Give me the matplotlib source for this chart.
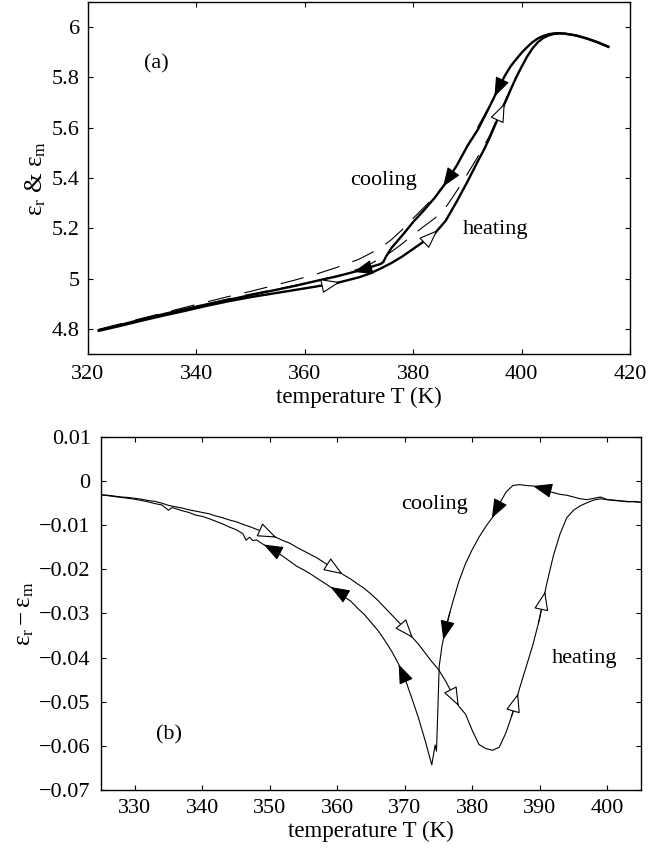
import numpy as np
import matplotlib.pyplot as plt

plt.rcParams['font.family'] = ['Liberation Serif', 'DejaVu Serif']
plt.rcParams['mathtext.fontset'] = 'custom'
plt.rcParams['mathtext.rm'] = 'Liberation Serif'
plt.rcParams['mathtext.it'] = 'Liberation Serif:italic'
plt.rcParams['mathtext.default'] = 'regular'
plt.rcParams['lines.scale_dashes'] = False

# ---- panel (a): eps_r on heating / cooling, eps_m dashed ----
T_heat = [322, 326, 330, 334, 338, 342, 346, 350, 354, 358, 362, 366, 370, 372, 374,
          376, 378, 380, 382, 384, 386, 388, 390, 392, 393, 394, 395, 396, 397, 398,
          399, 400, 401, 402, 403, 404, 405, 406, 407, 408, 410, 412, 414, 416]
eps_heat = [4.792, 4.812, 4.833, 4.853, 4.872, 4.892, 4.910, 4.926, 4.940, 4.954, 4.968,
            4.983, 5.005, 5.020, 5.040, 5.062, 5.088, 5.118, 5.148, 5.180, 5.230, 5.305,
            5.385, 5.470, 5.510, 5.555, 5.605, 5.655, 5.702, 5.752, 5.800, 5.842, 5.882,
            5.915, 5.940, 5.957, 5.967, 5.973, 5.975, 5.974, 5.967, 5.955, 5.940, 5.922]

T_cool = [322, 326, 330, 334, 338, 342, 346, 350, 354, 358, 362, 366, 370, 372, 374,
          374.5, 375, 376, 378, 380, 382, 384, 386, 388, 390, 392, 394, 395, 396, 397,
          398, 399, 400, 401, 402, 403, 404, 405, 406, 407, 408, 410, 412, 414, 416]
eps_cool = [4.795, 4.816, 4.838, 4.859, 4.879, 4.898, 4.916, 4.934, 4.952, 4.970, 4.990,
            5.009, 5.032, 5.045, 5.058, 5.066, 5.088, 5.122, 5.172, 5.225, 5.272, 5.322,
            5.380, 5.448, 5.527, 5.595, 5.680, 5.724, 5.770, 5.810, 5.845, 5.872, 5.898,
            5.920, 5.940, 5.955, 5.965, 5.972, 5.975, 5.976, 5.974, 5.967, 5.955, 5.940,
            5.922]

T_m_cool = [322, 330, 340, 346, 350, 354, 358, 362, 366, 370, 372, 374, 376, 378, 380,
            382, 384, 386, 388, 390, 394, 398]
eps_m_cool = [4.798, 4.842, 4.897, 4.929, 4.949, 4.971, 4.993, 5.017, 5.045, 5.077, 5.099,
              5.122, 5.155, 5.195, 5.240, 5.283, 5.327, 5.381, 5.449, 5.529, 5.683, 5.849]

T_m_heat = [322, 330, 340, 346, 350, 354, 358, 362, 366, 370, 372, 374, 376, 378, 380,
            382, 384, 386, 388, 390, 392, 394, 396, 398]
eps_m_heat = [4.795, 4.837, 4.889, 4.920, 4.938, 4.955, 4.972, 4.991, 5.011, 5.039, 5.057,
              5.081, 5.107, 5.139, 5.175, 5.208, 5.240, 5.283, 5.347, 5.416, 5.487, 5.564,
              5.661, 5.756]

# ---- panel (b): eps_r - eps_m ----
Tb_heat = list(range(325, 406))
d_heat = [-0.0031, -0.0032, -0.0034, -0.0036, -0.0037, -0.0039, -0.0041, -0.0044, -0.0046,
          -0.0050, -0.0055, -0.0058, -0.0061, -0.0065, -0.0068, -0.0071, -0.0074, -0.0079,
          -0.0083, -0.0088, -0.0092, -0.0098, -0.0103, -0.0109, -0.0115, -0.0121, -0.0128,
          -0.0135, -0.0141, -0.0150, -0.0158, -0.0166, -0.0174, -0.0184, -0.0194, -0.0203,
          -0.0213, -0.0222, -0.0233, -0.0243, -0.0256, -0.0270, -0.0286, -0.0302, -0.0318,
          -0.0334, -0.0352, -0.0369, -0.0389, -0.0409, -0.0427, -0.0452, -0.0480, -0.0510,
          -0.0528, -0.0565, -0.0597, -0.0606, -0.0610, -0.0603, -0.0570, -0.0525, -0.0470,
          -0.0420, -0.0370, -0.0310, -0.0235, -0.0170, -0.0120, -0.0083, -0.0066, -0.0056,
          -0.0049, -0.0043, -0.0040, -0.0042, -0.0044, -0.0045, -0.0047, -0.0046, -0.0048]

Tb_cool = [325, 326, 327, 328, 329, 330, 331, 332, 333, 334, 335, 335.5, 336, 337, 338,
           339, 340, 341, 342, 343, 344, 345, 346, 346.5, 347, 347.5, 348, 349, 350, 351,
           352, 353, 354, 355, 356, 357, 358, 359, 360, 361, 362, 363, 364, 365, 366, 367,
           368, 369, 370, 371, 372, 373, 373.5, 374, 374.5, 374.7, 374.9, 375.1, 375.5,
           376, 377, 378, 379, 380, 381, 382, 383, 384, 385, 386, 387, 388, 389, 390, 391,
           392, 393, 394, 395, 396, 397, 398, 399, 400, 401, 402, 403, 404, 405]
d_cool = [-0.0031, -0.0033, -0.0035, -0.0037, -0.0039, -0.0041, -0.0044, -0.0047, -0.0051,
          -0.0054, -0.0066, -0.0060, -0.0062, -0.0067, -0.0071, -0.0077, -0.0080, -0.0085,
          -0.0091, -0.0097, -0.0104, -0.0110, -0.0119, -0.0134, -0.0127, -0.0135, -0.0133,
          -0.0143, -0.0151, -0.0160, -0.0171, -0.0182, -0.0193, -0.0201, -0.0210, -0.0220,
          -0.0230, -0.0240, -0.0249, -0.0262, -0.0272, -0.0288, -0.0302, -0.0320, -0.0338,
          -0.0360, -0.0384, -0.0412, -0.0446, -0.0490, -0.0535, -0.0587, -0.0615, -0.0643,
          -0.0598, -0.0612, -0.0520, -0.0420, -0.0375, -0.0336, -0.0280, -0.0228, -0.0187,
          -0.0155, -0.0127, -0.0103, -0.0082, -0.0052, -0.0025, -0.0010, -0.0008, -0.0010,
          -0.0011, -0.0015, -0.0022, -0.0026, -0.0030, -0.0032, -0.0036, -0.0040, -0.0042,
          -0.0039, -0.0036, -0.0042, -0.0043, -0.0045, -0.0046, -0.0047, -0.0048]

# arrow tip temperatures along each branch
arr_a_heat = [366.5, 384.5, 396.9]
arr_a_cool = [395.0, 385.5, 369.0]
arr_b_heat = [351.0, 360.8, 371.2, 378.0, 386.8, 390.8]
arr_b_cool = [389.0, 382.9, 375.7, 369.1, 359.0, 349.1]

yticks_a = [4.8, 5.0, 5.2, 5.4, 5.6, 5.8, 6.0]
ylabels_a = ['4.8', '5', '5.2', '5.4', '5.6', '5.8', '6']
xticks_a = [320, 340, 360, 380, 400, 420]
yticks_b = [0.01, 0, -0.01, -0.02, -0.03, -0.04, -0.05, -0.06, -0.07]
ylabels_b = ['0.01', '0', '\u22120.01', '\u22120.02', '\u22120.03', '\u22120.04',
             '\u22120.05', '\u22120.06', '\u22120.07']
xticks_b = [330, 340, 350, 360, 370, 380, 390, 400]

FS = 16


def arrows(ax, T, y, tips, step, face):
    for t in tips:
        tip = (t, np.interp(t, T, y))
        tail = (t - step, np.interp(t - step, T, y))
        ax.annotate('', xy=tip, xytext=tail,
                    arrowprops=dict(arrowstyle='-|>,head_length=1.0,head_width=0.38',
                                    mutation_scale=12, fc=face, ec='black', lw=0.8,
                                    shrinkA=0, shrinkB=0))


def style(ax, xpad, ypad):
    ax.tick_params(direction='in', top=True, right=True, length=3.6, width=0.8,
                   labelsize=FS)
    ax.tick_params(axis='x', pad=xpad)
    ax.tick_params(axis='y', pad=ypad)
    for s in ax.spines.values():
        s.set_linewidth(1.0)


fig = plt.figure(figsize=(6.48, 8.59), dpi=100)
ax1 = fig.add_axes([0.1358, 0.5879, 0.8364, 0.4098])
ax2 = fig.add_axes([0.1559, 0.0803, 0.8333, 0.4110])

# (a)
ax1.plot(T_m_cool, eps_m_cool, color='black', lw=0.8, dashes=(17, 10))
ax1.plot(T_m_heat, eps_m_heat, color='black', lw=0.8, dashes=(17, 10))
ax1.plot(T_heat, eps_heat, color='black', lw=1.7)
ax1.plot(T_cool, eps_cool, color='black', lw=1.7)
arrows(ax1, T_heat, eps_heat, arr_a_heat, 1.0, 'white')
arrows(ax1, T_cool, eps_cool, arr_a_cool, -1.0, 'black')
ax1.set_xlim(320, 420)
ax1.set_ylim(4.7, 6.1)
ax1.set_xticks(xticks_a)
ax1.set_yticks(yticks_a)
ax1.set_yticklabels(ylabels_a)
ax1.text(332.7, 5.855, '(a)', fontsize=FS, ha='center', va='center')
ax1.text(374.5, 5.389, 'cooling', fontsize=FS, ha='center', va='center')
ax1.text(395.2, 5.197, 'heating', fontsize=FS, ha='center', va='center')
ax1.set_xlabel('temperature T (K)', fontsize=16.5, labelpad=2)
ax1.set_ylabel(r'$\varepsilon_r$ & $\varepsilon_m$', fontsize=18, labelpad=3)
style(ax1, 8, 5.8)

# (b)
ax2.plot(Tb_heat, d_heat, color='black', lw=0.8)
ax2.plot(Tb_cool, d_cool, color='black', lw=0.8)
arrows(ax2, Tb_heat, d_heat, arr_b_heat, 1.0, 'white')
arrows(ax2, Tb_cool, d_cool, arr_b_cool, -1.0, 'black')
ax2.set_xlim(325, 405)
ax2.set_ylim(-0.07, 0.01)
ax2.set_xticks(xticks_b)
ax2.set_yticks(yticks_b)
ax2.set_yticklabels(ylabels_b)
ax2.text(335, -0.0576, '(b)', fontsize=FS, ha='center', va='center')
ax2.text(374.4, -0.0052, 'cooling', fontsize=FS, ha='center', va='center')
ax2.text(396.6, -0.0402, 'heating', fontsize=FS, ha='center', va='center')
ax2.set_xlabel('temperature T (K)', fontsize=16.5, labelpad=2)
ax2.set_ylabel(r'$\varepsilon_r-\varepsilon_m$', fontsize=18, labelpad=2)
style(ax2, 6.8, 7.4)

fig.savefig('out.png', dpi=100)
